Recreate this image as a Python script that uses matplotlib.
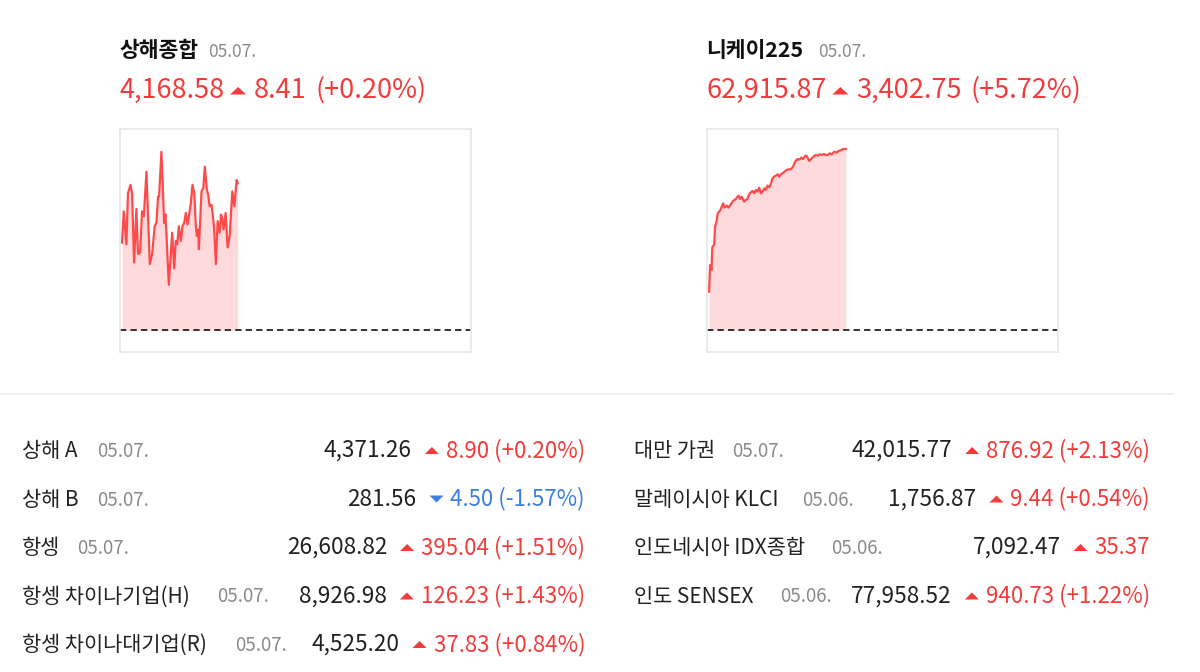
import matplotlib
matplotlib.use('Agg')
import matplotlib.pyplot as plt
from matplotlib.lines import Line2D
from matplotlib.patches import Polygon

plt.rcParams['font.family'] = ['Noto Sans CJK KR', 'DejaVu Sans']

RED = '#f23c3c'
BLUE = '#3d7fe0'
DARK = '#222222'
GRAY = '#8a8a8a'

# 상단 대표 지수
top_names = ['상해종합', '니케이225']
top_dates = ['05.07.', '05.07.']
top_prices = ['4,168.58', '62,915.87']
top_changes = ['8.41', '3,402.75']
top_pcts = ['(+0.20%)', '(+5.72%)']
prev_close = [4160.17, 59513.12]

# 상해종합 장중 (개장 후 분, 지수)
sh_time = [0, 1.2, 3.0, 4.1, 5.8, 6.9, 8.3, 9.9, 11.0, 12.4, 13.8, 15.0, 16.8, 19.1,
           20.7, 22.5, 23.7, 24.8, 25.5, 27.1, 29.0, 29.9, 32.2, 34.5, 35.9, 37.0,
           38.0, 39.1, 40.5, 41.6, 42.8, 43.9, 45.1, 46.2, 47.4, 48.5, 49.7, 50.8,
           51.5, 52.4, 52.9, 54.7, 55.9, 57.0, 58.4, 59.3, 60.3, 61.6, 63.3, 64.6,
           65.8, 67.2, 68.1, 69.0, 69.9, 71.3, 72.7, 74.1, 75.9, 77.3, 78.9, 79.6]
sh_value = [4165.18, 4166.97, 4165.08, 4168.01, 4168.49, 4168.01, 4164.04, 4167.11,
            4164.52, 4164.61, 4166.97, 4166.69, 4169.24, 4163.95, 4164.52, 4166.12,
            4166.31, 4167.82, 4167.82, 4170.38, 4166.31, 4166.79, 4162.76, 4165.75,
            4163.70, 4165.27, 4165.08, 4166.12, 4165.27, 4166.12, 4166.31, 4166.88,
            4166.22, 4166.79, 4167.45, 4168.49, 4168.01, 4166.12, 4165.56, 4165.93,
            4164.80, 4168.11, 4168.30, 4169.53, 4168.20, 4167.92, 4167.26, 4167.35,
            4166.12, 4163.95, 4166.41, 4165.75, 4166.79, 4166.60, 4165.93, 4166.88,
            4164.90, 4165.56, 4168.11, 4167.26, 4168.77, 4168.58]

# 니케이225 장중
nk_time = [0, 0.9, 2.2, 3.1, 4.7, 5.6, 6.9, 8.1, 10.0, 11.9, 13.1, 14.4, 16.3, 18.1,
           20.3, 22.5, 25.0, 27.5, 29.1, 30.6, 32.8, 34.4, 35.9, 37.5, 39.1, 40.6,
           42.2, 43.8, 45.3, 46.9, 48.4, 50.0, 51.9, 53.1, 54.7, 56.3, 57.8, 59.4,
           60.9, 62.5, 64.4, 65.6, 67.2, 68.8, 70.6, 72.5, 74.4, 76.6, 78.8, 80.6,
           82.8, 84.4, 86.3, 88.1, 90.0, 91.3, 92.5, 93.8, 95.3, 96.9, 98.4, 100.0,
           101.9, 103.8, 105.6, 107.5, 109.4, 111.3, 113.1, 115.0, 117.2, 119.4,
           121.3, 123.4, 125.6, 128.1]
nk_value = [60233.8, 60735.2, 60641.2, 61079.9, 61111.2, 61455.9, 61549.9, 61706.6,
            61750.4, 61831.9, 61894.6, 61813.1, 61850.7, 61813.1, 61875.8, 61938.4,
            61976.0, 62038.7, 61976.0, 62019.9, 61925.9, 61957.2, 61976.0, 62063.8,
            62101.4, 62126.4, 62082.6, 62145.2, 62113.9, 62189.1, 62082.6, 62113.9,
            62176.6, 62145.2, 62226.7, 62195.4, 62251.8, 62364.6, 62395.9, 62414.7,
            62439.8, 62395.9, 62439.8, 62458.6, 62489.9, 62521.3, 62533.8, 62533.8,
            62583.9, 62677.9, 62728.0, 62715.5, 62753.1, 62728.0, 62784.5, 62790.7,
            62740.6, 62690.5, 62721.8, 62753.1, 62784.5, 62803.3, 62790.7, 62815.8,
            62803.3, 62822.1, 62803.3, 62803.3, 62834.6, 62815.8, 62865.9, 62847.1,
            62878.5, 62891.0, 62915.9, 62915.87]

# 하단 표
left_names = ['상해 A', '상해 B', '항셍', '항셍 차이나기업(H)', '항셍 차이나대기업(R)']
left_dates = ['05.07.', '05.07.', '05.07.', '05.07.', '05.07.']
left_values = ['4,371.26', '281.56', '26,608.82', '8,926.98', '4,525.20']
left_changes = ['8.90 (+0.20%)', '4.50 (-1.57%)', '395.04 (+1.51%)', '126.23 (+1.43%)', '37.83 (+0.84%)']
left_up = [True, False, True, True, True]

right_names = ['대만 가권', '말레이시아 KLCI', '인도네시아 IDX종합', '인도 SENSEX']
right_dates = ['05.07.', '05.06.', '05.06.', '05.06.']
right_values = ['42,015.77', '1,756.87', '7,092.47', '77,958.52']
right_changes = ['876.92 (+2.13%)', '9.44 (+0.54%)', '35.37', '940.73 (+1.22%)']
right_up = [True, True, True, True]

W, H = 1200, 672
fig = plt.figure(figsize=(W / 100, H / 100), dpi=100)
fig.patch.set_facecolor('white')
rend = fig.canvas.get_renderer()


def put(x, y, s, ha='left', **kw):
    # x, y : 픽셀 (y 는 위에서부터, baseline)
    return fig.text(x / W, 1 - y / H, s, ha=ha, va='baseline', **kw)


def width(t):
    return t.get_window_extent(rend).width


def tri(xl, yb, w, h, up, color):
    if up:
        pts = [(xl, yb), (xl + w, yb), (xl + w / 2, yb - h)]
    else:
        pts = [(xl, yb - h), (xl + w, yb - h), (xl + w / 2, yb)]
    pts = [(px / W, 1 - py / H) for px, py in pts]
    fig.add_artist(Polygon(pts, closed=True, color=color, lw=0, transform=fig.transFigure))


# 상단 제목과 지수
top_x = [119, 706]
date_x = [208, 818]
for i in range(2):
    put(top_x[i], 57, top_names[i], fontsize=15.5, fontweight='bold', color='#111111')
    put(date_x[i], 57, top_dates[i], fontsize=12.5, color=GRAY)
    t = put(top_x[i], 98, top_prices[i], fontsize=19.5, color=RED)
    x = top_x[i] + width(t) + 6
    tri(x, 94.5, 16, 7.5, True, RED)
    x += 16 + 8
    t = put(x, 98, top_changes[i], fontsize=19.5, color=RED)
    x += width(t) + 9
    put(x, 98, top_pcts[i], fontsize=19.5, color=RED)

# 스파크라인
charts = [(sh_time, sh_value, (-1.4, 240.2), (4158.91, 4171.69), 120),
          (nk_time, nk_value, (-2, 327), (59099.5, 63292), 707)]
for i, (tt, vv, xl, yl, left) in enumerate(charts):
    ax = fig.add_axes([left / W, 1 - 352 / H, 351 / W, 223 / H])
    ax.fill_between(tt, vv, prev_close[i], color='#ffdadd', lw=0)
    ax.plot(tt, vv, color='#ff4a4a', lw=1.6)
    ax.axhline(prev_close[i], color='#222222', lw=1.3, ls=(0, (3.5, 2.3)))
    ax.set_xlim(xl)
    ax.set_ylim(yl)
    ax.set_xticks([])
    ax.set_yticks([])
    for s in ax.spines.values():
        s.set_color('#e6e6e6')
        s.set_linewidth(1.2)

# 구분선
fig.add_artist(Line2D([0, 1173 / W], [1 - 394 / H] * 2, color='#ebebeb', lw=1.2,
                      transform=fig.transFigure))

# 하단 표
row_y = [457, 505.5, 554, 602.5, 651]
left_date_x = [97, 97, 77, 217, 235]
right_date_x = [732, 802, 831, 780]


def table(names, dates, values, changes, ups, name_x, dx, right_edge):
    for i in range(len(names)):
        y = row_y[i]
        col = RED if ups[i] else BLUE
        put(name_x, y, names[i], fontsize=15, color=DARK)
        put(dx[i], y, dates[i], fontsize=13.5, color=GRAY)
        t = put(right_edge, y, changes[i], ha='right', fontsize=16, color=col)
        x = right_edge - width(t) - 7
        tri(x - 14, y - 3, 14, 7, ups[i], col)
        put(x - 14 - 13, y, values[i], ha='right', fontsize=16.3, color=DARK)


table(left_names, left_dates, left_values, left_changes, left_up, 22, left_date_x, 585)
table(right_names, right_dates, right_values, right_changes, right_up, 634, right_date_x, 1150)

fig.savefig('out.png', dpi=100, facecolor='white')
